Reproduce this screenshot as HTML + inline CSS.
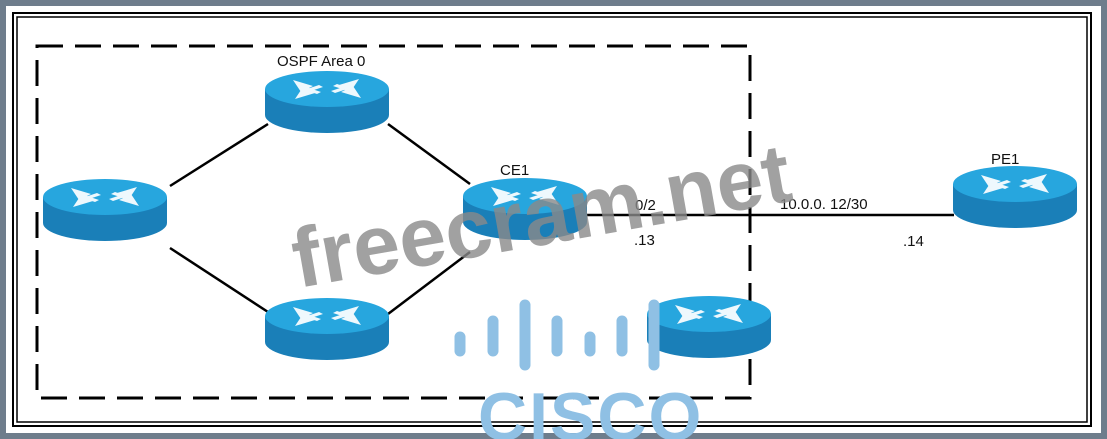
<!DOCTYPE html>
<html><head><style>
body{margin:0;width:1107px;height:439px;overflow:hidden;background:#6e7d8c;font-family:"Liberation Sans",sans-serif}
</style></head><body>
<svg width="1107" height="439" style="position:absolute;left:0;top:0">
<defs>
<g id="r">
<path d="M0,0 L0,26 A62,18 0 0 0 124,26 L124,0 Z" fill="#1a7fb8"/>
<ellipse cx="62" cy="0" rx="62" ry="18" fill="#27a6de"/>
<g fill="#eef8fd">
<polygon points="28,-9 48,-3 44,-1 56,3 52,5 40,1 36,3"/>
<polygon points="96,9 76,3 80,1 68,-3 72,-5 84,-1 88,-3"/>
<polygon points="94,-10 74,-4 78,-2 66,2 70,4 82,0 86,2"/>
<polygon points="30,10 50,4 46,2 58,-2 54,-4 42,0 38,-2"/>
</g>
</g>
</defs>
<rect x="6" y="6" width="1095" height="427" fill="#fff"/>
<rect x="13" y="13" width="1078" height="413" fill="none" stroke="#000" stroke-width="2"/>
<rect x="17" y="17" width="1070" height="405" fill="none" stroke="#000" stroke-width="1.5"/>
<rect x="37" y="46" width="713" height="352" fill="none" stroke="#000" stroke-width="3" stroke-dasharray="26,12"/>
<g stroke="#000" stroke-width="2.5">
<line x1="170" y1="186" x2="268" y2="124"/>
<line x1="170" y1="248" x2="268" y2="312"/>
<line x1="388" y1="124" x2="470" y2="184"/>
<line x1="388" y1="314" x2="470" y2="252"/>
<line x1="586" y1="215" x2="954" y2="215"/>
</g>
<use href="#r" x="43" y="197"/>
<use href="#r" x="265" y="89"/>
<use href="#r" x="463" y="196"/>
<use href="#r" x="265" y="316"/>
<use href="#r" x="953" y="184"/>
<use href="#r" x="647" y="314"/>
<g font-size="15" fill="#111">
<text x="277" y="66">OSPF Area 0</text>
<text x="500" y="175">CE1</text>
<text x="991" y="164">PE1</text>
<text x="635" y="210">0/2</text>
<text x="634" y="245">.13</text>
<text x="780" y="209">10.0.0. 12/30</text>
<text x="903" y="246">.14</text>
</g>
<text x="298" y="288" transform="rotate(-10 298 288)" font-size="84" font-weight="bold" fill="#8a8a8a" opacity="0.8">freecram.net</text>
<g stroke="#8fc0e4" stroke-width="11" stroke-linecap="round">
<line x1="460" y1="337" x2="460" y2="351"/>
<line x1="493" y1="321" x2="493" y2="351"/>
<line x1="525" y1="305" x2="525" y2="365"/>
<line x1="557" y1="321" x2="557" y2="351"/>
<line x1="590" y1="337" x2="590" y2="351"/>
<line x1="622" y1="321" x2="622" y2="351"/>
<line x1="654" y1="305" x2="654" y2="365"/>
</g>
<text x="478" y="440" font-size="68" font-weight="bold" fill="#8fc0e4" letter-spacing="2">CISCO</text>
</svg>
</body></html>
